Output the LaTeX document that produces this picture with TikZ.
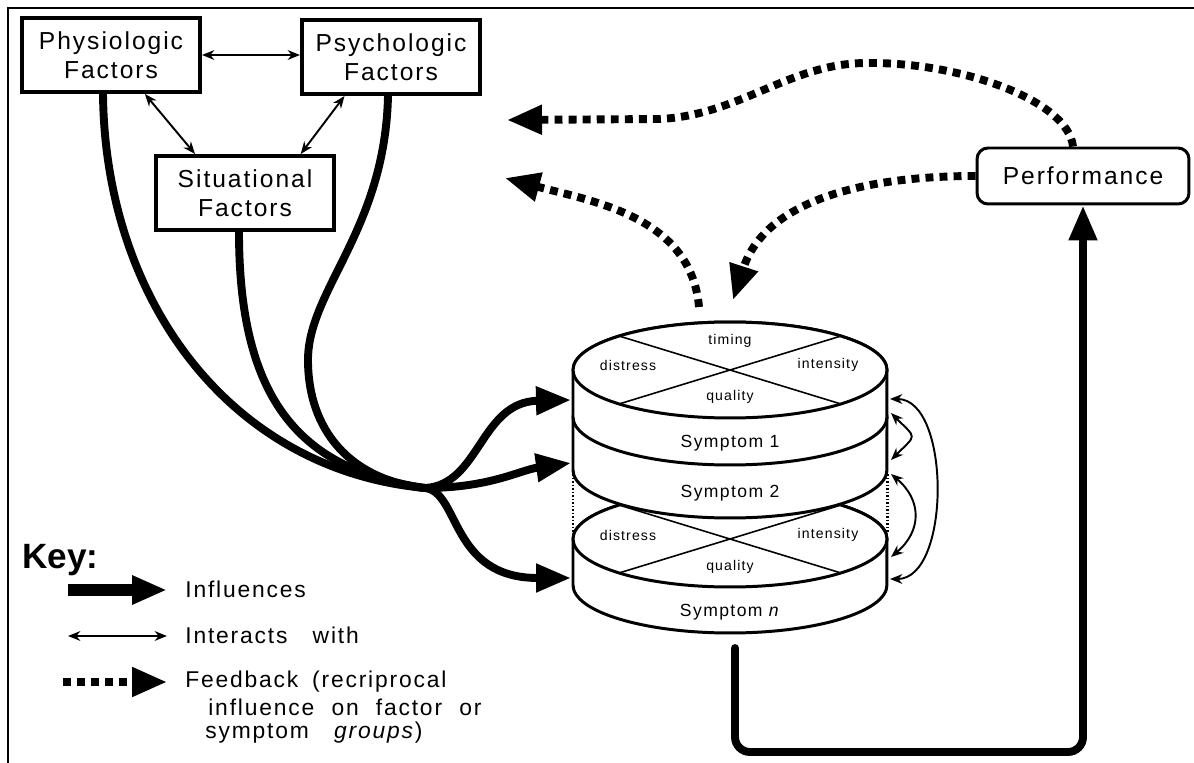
\documentclass[tikz,border=0pt]{standalone}
\usepackage{fontspec}
\setmainfont{Liberation Sans}[LetterSpace=8]
\newfontfamily\keyfont{Liberation Sans}
\usepackage{tikz}
\usetikzlibrary{arrows.meta}
\newcommand{\boxsize}{\fontsize{14}{16.5}\selectfont}
\newcommand{\keysize}{\fontsize{13}{15}\selectfont}
\newcommand{\symsize}{\fontsize{10}{12}\selectfont}
\newcommand{\partsize}{\fontsize{8}{10}\selectfont}

\begin{document}
\begin{tikzpicture}[x=0.02cm, y=0.02cm,
	factor/.style={draw, line width=2.3pt, minimum width=3.56cm, minimum height=1.48cm, align=center, font=\boxsize, inner sep=1pt},
	perfbox/.style={draw, line width=1.7pt, rounded corners=0.22cm, minimum width=4.24cm, minimum height=1.12cm, font=\boxsize},
	interact/.style={line width=1.1pt, {Stealth[length=7pt,width=5.5pt]}-{Stealth[length=7pt,width=5.5pt]}},
	flow/.style={line width=4.5pt, line cap=round},
	influence/.style={flow, -{Triangle[length=0.7cm,width=0.54cm]}},
	feedback/.style={line width=4.5pt, dash pattern=on 4.5pt off 3.5pt, -{Triangle[length=0.7cm,width=0.56cm]}},
	disk/.style={fill=white, draw, line width=1.7pt},
	rim/.style={x radius=3.14cm, y radius=0.96cm},
	cross/.style={line width=0.9pt},
	seam/.style={line width=1.7pt, dash pattern=on 1pt off 1pt},
	part/.style={inner sep=0pt, font=\partsize},
	sym/.style={inner sep=0pt, font=\symsize},
	keytext/.style={anchor=base west, inner sep=0pt, font=\keysize}]
	\useasboundingbox (0,0) rectangle (1194,-763);
	\draw[line width=1.7pt] (8,-763) -- (8,-8) -- (1194,-8);

	% factors
	\node[factor] (phys) at (111,-55) {Physiologic\\Factors};
	\node[factor] (psych) at (391,-57) {Psychologic\\Factors};
	\node[factor] (sit) at (245,-193) {Situational\\Factors};
	\node[perfbox] (perf) at (1083,-176) {Performance};

	\draw[interact] (phys) -- (phys -| psych.west);
	\draw[interact] (phys.-49) -- (sit.142);
	\draw[interact] (psych.220) -- (sit.35);

	% symptom n
	\path[disk] (573,-539) -- (573,-585) arc[rim, start angle=180, end angle=360] -- (887,-539) arc[rim, start angle=0, end angle=180] -- cycle;
	\draw[disk] (730,-539) ellipse[rim];
	\draw[cross] (619,-505) -- (841,-573) (841,-505) -- (619,-573);
	\node[part] (dn) at (628,-535) {distress};
	\node[part] (in) at (828,-535) {intensity};
	\node[part] (qn) at (730,-567) {quality};
	\node[sym] (sn) at (730,-612) {Symptom \textit{n}};
	% symptom 2
	\path[disk] (573,-417) -- (573,-470) arc[rim, start angle=180, end angle=360] -- (887,-417) arc[rim, start angle=0, end angle=180] -- cycle;
	\node[sym] (s2) at (730,-493) {Symptom 2};
	% symptom 1
	\path[disk] (573,-370) -- (573,-417) arc[rim, start angle=180, end angle=360] -- (887,-370) arc[rim, start angle=0, end angle=180] -- cycle;
	\draw[disk] (730,-370) ellipse[rim];
	\draw[cross] (619,-336) -- (841,-404) (841,-336) -- (619,-404);
	\node[part] (t1) at (730,-341) {timing};
	\node[part] (d1) at (628,-365) {distress};
	\node[part] (i1) at (828,-365) {intensity};
	\node[part] (q1) at (730,-397) {quality};
	\node[sym] (s1) at (730,-443) {Symptom 1};
	\draw[seam] (573,-474) -- (573,-532);
	\draw[seam] (887,-474) -- (887,-532);

	\coordinate (hub) at (425,-488);
	\coordinate (s1w) at (571,-400);
	\coordinate (s2w) at (571,-463);
	\coordinate (snw) at (571,-578);
	\coordinate (s1e) at (890,-399);
	\coordinate (s1e2) at (891,-413);
	\coordinate (s2e) at (891,-460);
	\coordinate (s2e2) at (891,-474);
	\coordinate (sne) at (891,-557);
	\coordinate (sne2) at (890,-579);
	\coordinate (snb) at (735,-648);
	\coordinate (low) at (735,-752);

	% influences
	\draw[flow] ([xshift=-0.16cm]phys.south) .. controls (105,-300) and (230,-470) .. (hub);
	\draw[flow] ([xshift=-0.12cm]sit.south) .. controls (239,-400) and (300,-470) .. (hub);
	\draw[flow] ([xshift=-0.06cm]psych.south) .. controls (385,-230) and (308,-290) .. (308,-360) .. controls (308,-430) and (350,-480) .. (hub);
	\draw[influence] (hub) .. controls (480,-485) and (480,-402) .. (s1w);
	\draw[influence] (hub) .. controls (490,-488) and (520,-470) .. (s2w);
	\draw[influence] (hub) .. controls (460,-492) and (450,-578) .. (snw);
	\draw[influence, rounded corners=0.3cm] (snb) -- (low) -| (perf.south);

	% symptoms interact
	\draw[interact] (s1e) to[out=0,in=0,looseness=0.87] (sne2);
	\draw[interact] (s1e2) to[out=-45,in=45,looseness=2] (s2e);
	\draw[interact] (s2e2) to[out=-40,in=40,looseness=1.25] (sne);

	% feedback
	\coordinate (fb1) at (507,-120);
	\coordinate (fb2) at (733,-300);
	\coordinate (fb3) at (505,-178);
	\coordinate (top) at (699,-307);
	\draw[feedback] ([xshift=-0.2cm]perf.north) .. controls (1068,-100) and (960,-62) .. (867,-63) .. controls (790,-63) and (740,-115) .. (660,-119) -- (fb1);
	\draw[feedback] (perf.west) to[out=180,in=72] (fb2);
	\draw[feedback] (top) to[out=95,in=-15] (fb3);

	% key
	\node[anchor=base west, inner sep=0pt, font=\keyfont\bfseries\fontsize{20}{24}\selectfont] (key) at (22,-568) {Key:};
	\coordinate (k1a) at (68,-590);
	\coordinate (k1b) at (167,-590);
	\coordinate (k2a) at (68,-636);
	\coordinate (k2b) at (167,-636);
	\coordinate (k3a) at (63,-682);
	\coordinate (k3b) at (167,-682);
	\draw[influence, line width=6.5pt, line cap=butt] (k1a) -- (k1b);
	\draw[interact] (k2a) -- (k2b);
	\draw[feedback] (k3a) -- (k3b);
	\node[keytext] (kinf) at (185,-597) {Influences};
	\node[keytext] (kint) at (185,-643) {Interacts\hspace{1.1em}with};
	\node[keytext] (kfb1) at (185,-687) {Feedback\hspace{0.6em}(recriprocal};
	\node[keytext] (kfb2) at (208,-715) {influence\hspace{0.75em}on\hspace{0.75em}factor\hspace{0.75em}or};
	\node[keytext] (kfb3) at (205,-738) {symptom\hspace{1.1em}\textit{groups})};
\end{tikzpicture}
\end{document}
